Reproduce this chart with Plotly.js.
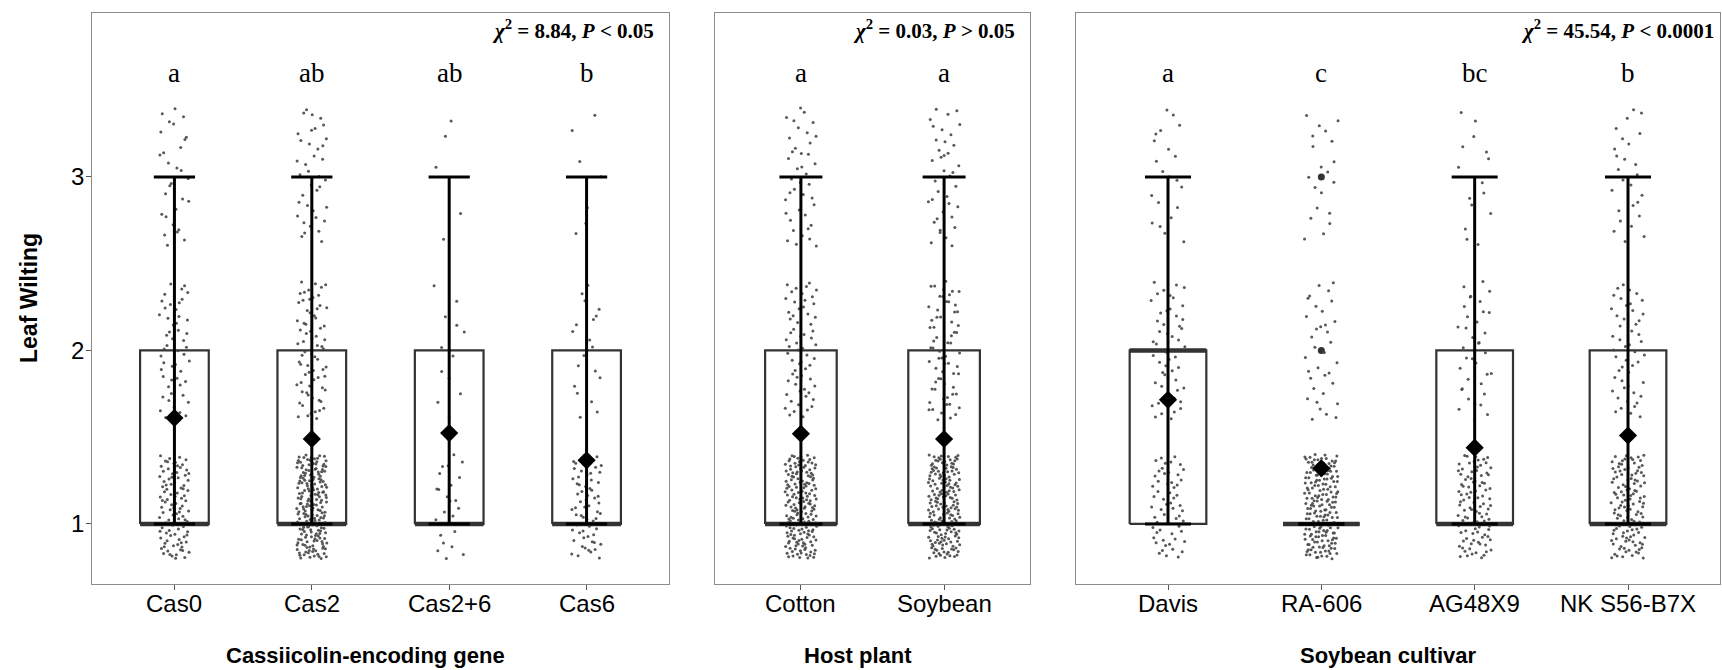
<!DOCTYPE html>
<html>
<head>
<meta charset="utf-8">
<script src="https://cdn.plot.ly/plotly-3.0.1.min.js"></script>
<style>
  html, body { margin: 0; padding: 0; background: #ffffff; }
  #chart { width: 1722px; height: 670px; }
</style>
</head>
<body>
<div id="chart"></div>
<script>
// Leaf wilting scores (1, 2 or 3): number of plants with each score per group.
const cassGenes   = ['Cas0', 'Cas2', 'Cas2+6', 'Cas6'];
const cassScore1  = [99, 191, 25, 64];
const cassScore2  = [52, 71, 12, 19];
const cassScore3  = [29, 38, 5, 7];
const cassLetters = ['a', 'ab', 'ab', 'b'];
const cassStat    = { chi: '8.84', p: '&lt; 0.05' };

const hosts       = ['Cotton', 'Soybean'];
const hostScore1  = [172, 186];
const hostScore2  = [63, 66];
const hostScore3  = [40, 38];
const hostLetters = ['a', 'a'];
const hostStat    = { chi: '0.03', p: '&gt; 0.05' };

const cultivars   = ['Davis', 'RA-606', 'AG48X9', 'NK S56-B7X'];
const cultScore1  = [58, 179, 99, 124];
const cultScore2  = [51, 35, 36, 50];
const cultScore3  = [21, 20, 15, 26];
const cultLetters = ['a', 'c', 'bc', 'b'];
const cultStat    = { chi: '45.54', p: '&lt; 0.0001' };

const axisTitles  = ['Cassiicolin-encoding gene', 'Host plant', 'Soybean cultivar'];
const yTicks      = [1, 2, 3];

// ---------------------------------------------------------------------------
const W = 1722;
const panelPx = [[92, 669], [715, 1030], [1076, 1720]];
const titleCenters = [365, 858, 1388];
const yRange = [0.654, 3.945];
const sans = 'Liberation Sans, Arial, sans-serif';
const serif = 'Liberation Serif, Times New Roman, serif';

// Halton sequence: a fixed, evenly spread jitter so the plot is reproducible.
function halton(i, base) {
  let f = 1, r = 0;
  while (i > 0) { f /= base; r += f * (i % base); i = Math.floor(i / base); }
  return r;
}

function quantile(sorted, q) {
  const pos = (sorted.length - 1) * q;
  const lo = Math.floor(pos), hi = Math.ceil(pos);
  return sorted[lo] + (sorted[hi] - sorted[lo]) * (pos - lo);
}

function expand(c1, c2, c3) {
  const out = [];
  for (let k = 0; k < c1; k++) out.push(1);
  for (let k = 0; k < c2; k++) out.push(2);
  for (let k = 0; k < c3; k++) out.push(3);
  return out;
}

const traces = [];
const annotations = [];

function panel(idx, cats, s1, s2, s3, letters, stat) {
  const sfx = idx === 0 ? '' : String(idx + 1);
  const xa = 'x' + sfx, ya = 'y' + sfx;

  const boxX = [], boxY = [], medX = [], medY = [];
  const ptX = [], ptY = [], outX = [], outY = [];
  const whX = [], whY = [], capX = [], capY = [];
  const meanX = [], meanY = [];
  let seed = 1 + idx * 977;

  cats.forEach((cat, i) => {
    const pos = i + 1;
    const vals = expand(s1[i], s2[i], s3[i]).sort((a, b) => a - b);
    const q1 = quantile(vals, 0.25), med = quantile(vals, 0.5), q3 = quantile(vals, 0.75);
    const iqr = q3 - q1;
    const inside = vals.filter(v => v >= q1 - 1.5 * iqr && v <= q3 + 1.5 * iqr);
    const lo = Math.min(...inside), hi = Math.max(...inside);
    const outliers = [...new Set(vals.filter(v => v < q1 - 1.5 * iqr || v > q3 + 1.5 * iqr))];
    const mean = vals.reduce((a, b) => a + b, 0) / vals.length;

    boxX.push(pos - 0.25, pos + 0.25, pos + 0.25, pos - 0.25, pos - 0.25, null);
    boxY.push(q1, q1, q3, q3, q1, null);
    medX.push(pos - 0.25, pos + 0.25, null);
    medY.push(med, med, null);
    outliers.forEach(v => { outX.push(pos); outY.push(v); });

    vals.forEach(v => {
      const u = halton(seed, 2), w = halton(seed, 3);
      seed++;
      ptX.push(pos + (u - 0.5) * 0.22);
      const dy = v === 1 ? -0.2 + w * 0.6 : -0.4 + w * 0.8;
      ptY.push(v + dy);
    });

    whX.push(pos, pos, null);
    whY.push(lo, hi, null);
    capX.push(pos - 0.15, pos + 0.15, null, pos - 0.15, pos + 0.15, null);
    capY.push(lo, lo, null, hi, hi, null);
    meanX.push(pos); meanY.push(mean);

    // group letter above each box
    annotations.push({
      xref: xa, yref: ya, x: pos, y: 3.6, text: letters[i], showarrow: false,
      font: { family: serif, size: 27, color: '#000' }, xanchor: 'center', yanchor: 'middle'
    });
    // category label under its tick
    annotations.push({
      xref: xa, yref: 'paper', x: pos, y: 0, yshift: -4, text: cat, showarrow: false,
      font: { family: sans, size: 24, color: '#000' }, xanchor: 'center', yanchor: 'top'
    });
  });

  const base = { xaxis: xa, yaxis: ya, hoverinfo: 'skip', showlegend: false };
  traces.push(Object.assign({ type: 'scatter', mode: 'lines', x: boxX, y: boxY,
    line: { color: '#333333', width: 2.2 } }, base));
  traces.push(Object.assign({ type: 'scatter', mode: 'lines', x: medX, y: medY,
    line: { color: '#333333', width: 4.5 } }, base));
  traces.push(Object.assign({ type: 'scatter', mode: 'markers', x: outX, y: outY,
    marker: { color: '#333333', size: 7 } }, base));
  traces.push(Object.assign({ type: 'scatter', mode: 'markers', x: ptX, y: ptY,
    marker: { color: 'rgba(70,70,70,0.9)', size: 3 } }, base));
  traces.push(Object.assign({ type: 'scatter', mode: 'lines', x: whX, y: whY,
    line: { color: '#000000', width: 3 } }, base));
  traces.push(Object.assign({ type: 'scatter', mode: 'lines', x: capX, y: capY,
    line: { color: '#000000', width: 3 } }, base));
  traces.push(Object.assign({ type: 'scatter', mode: 'markers', x: meanX, y: meanY,
    marker: { color: '#000000', symbol: 'diamond', size: 14 } }, base));

  const [left, right] = panelPx[idx];
  annotations.push({
    xref: 'paper', yref: ya, x: (right - (idx === 2 ? 4 : 13)) / W, y: 3.85,
    xanchor: 'right', yanchor: 'middle', showarrow: false,
    text: '<b><i>χ</i><sup>2</sup> = ' + stat.chi + ', <i>P</i> ' + stat.p + '</b>',
    font: { family: serif, size: 21, color: '#000' }
  });
  annotations.push({
    xref: 'paper', yref: 'paper', x: titleCenters[idx] / W, y: -0.125,
    xanchor: 'center', yanchor: 'middle', showarrow: false,
    text: '<b>' + axisTitles[idx] + '</b>',
    font: { family: sans, size: 22, color: '#000' }
  });
}

panel(0, cassGenes, cassScore1, cassScore2, cassScore3, cassLetters, cassStat);
panel(1, hosts, hostScore1, hostScore2, hostScore3, hostLetters, hostStat);
panel(2, cultivars, cultScore1, cultScore2, cultScore3, cultLetters, cultStat);

// y tick labels, set close to the tick marks
yTicks.forEach(t => {
  annotations.push({
    xref: 'paper', yref: 'y', x: panelPx[0][0] / W, xshift: -6, y: t,
    xanchor: 'right', yanchor: 'middle', showarrow: false, text: String(t),
    font: { family: sans, size: 24, color: '#000' }
  });
});

annotations.push({
  xref: 'paper', yref: 'paper', x: 29 / W, y: (584 - 298) / 571,
  xanchor: 'center', yanchor: 'middle', showarrow: false, textangle: -90,
  text: '<b>Leaf Wilting</b>', font: { family: sans, size: 23, color: '#000' }
});

function xAxis(idx, cats) {
  const [l, r] = panelPx[idx];
  return {
    domain: [l / W, r / W], range: [0.4, cats.length + 0.6],
    tickvals: cats.map((_, i) => i + 1), showticklabels: false,
    ticks: 'outside', ticklen: 5, tickwidth: 1, tickcolor: '#555',
    showline: true, mirror: true, linecolor: '#8c8c8c', linewidth: 1.3,
    showgrid: false, zeroline: false, fixedrange: true,
    anchor: idx === 0 ? 'y' : 'y' + (idx + 1)
  };
}
function yAxis(idx) {
  return {
    range: yRange, tickvals: yTicks, showticklabels: false,
    ticks: idx === 0 ? 'outside' : '', ticklen: 5, tickwidth: 1, tickcolor: '#555',
    showline: true, mirror: true, linecolor: '#8c8c8c', linewidth: 1.3,
    showgrid: false, zeroline: false, fixedrange: true,
    anchor: idx === 0 ? 'x' : 'x' + (idx + 1)
  };
}

const layout = {
  width: 1722, height: 670,
  margin: { l: 0, r: 0, t: 13, b: 86 },
  paper_bgcolor: '#ffffff', plot_bgcolor: '#ffffff',
  showlegend: false,
  xaxis: xAxis(0, cassGenes), yaxis: yAxis(0),
  xaxis2: xAxis(1, hosts), yaxis2: yAxis(1),
  xaxis3: xAxis(2, cultivars), yaxis3: yAxis(2),
  annotations: annotations
};

Plotly.newPlot('chart', traces, layout, { staticPlot: true, displayModeBar: false });
</script>
</body>
</html>
